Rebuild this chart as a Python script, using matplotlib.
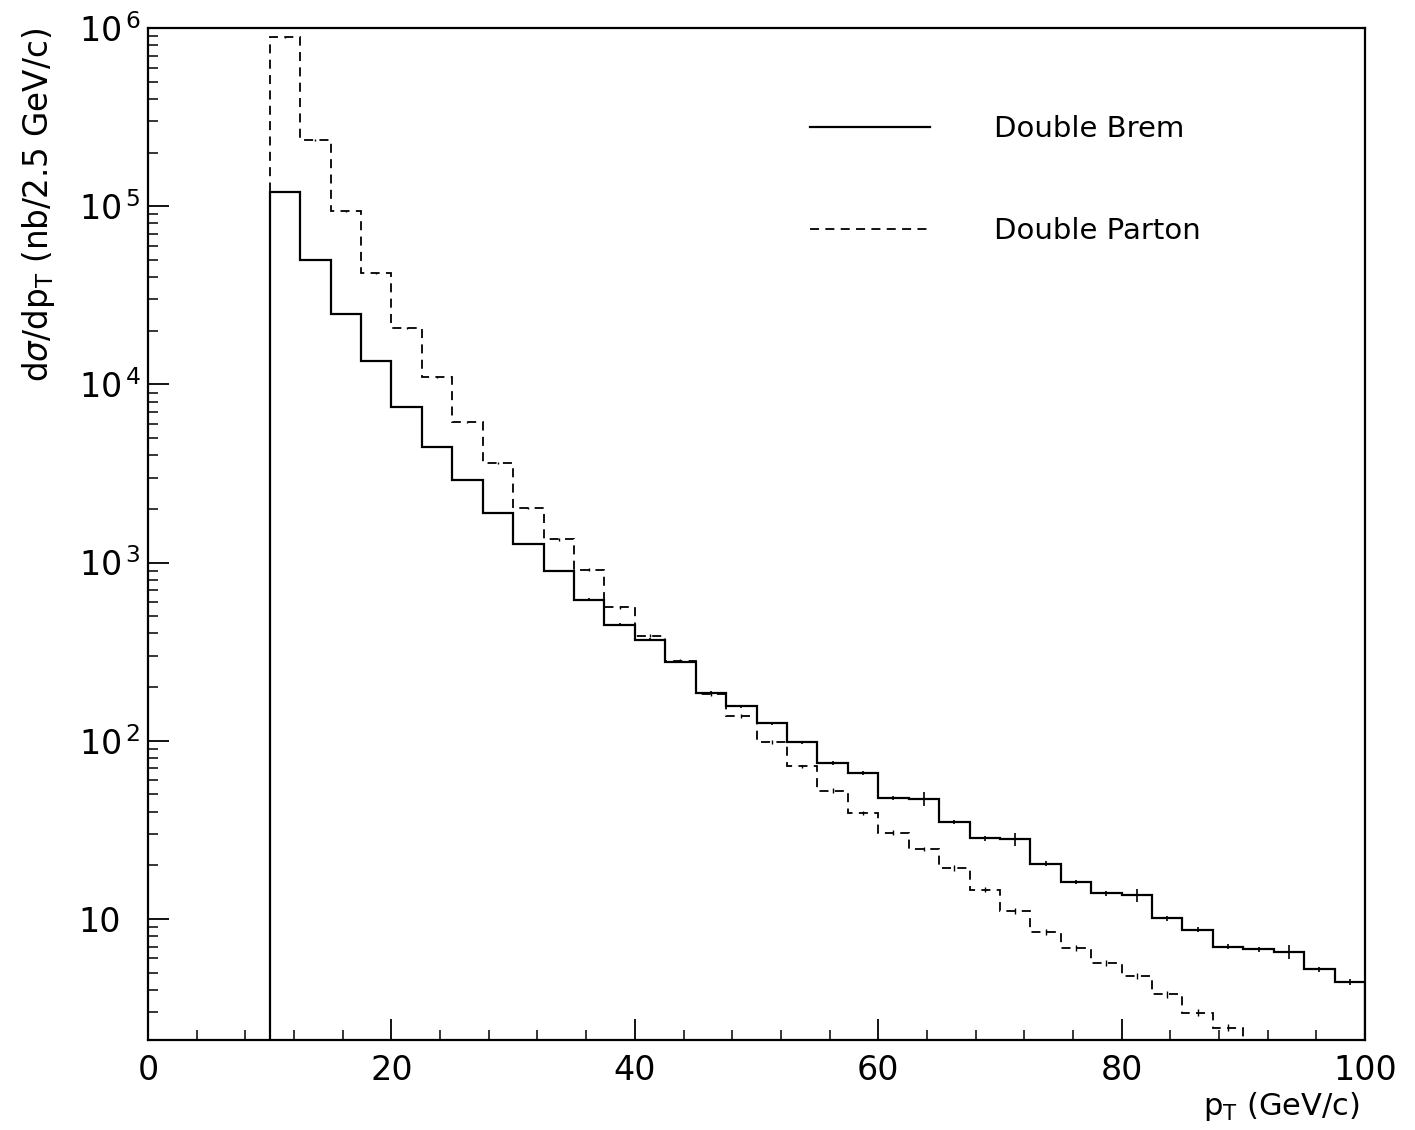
import matplotlib
matplotlib.use("Agg")
import matplotlib.pyplot as plt
import numpy as np
from matplotlib.lines import Line2D
from matplotlib.ticker import MultipleLocator, LogLocator, NullFormatter

# bin edges (GeV/c), 2.5 GeV/c wide starting at 10
edges = np.arange(10.0, 100.01, 2.5)

# Double Brem (solid), 10 -> 100 GeV/c
brem = [1.20e5, 5.0e4, 2.47e4, 1.35e4, 7.5e3, 4.44e3, 2.89e3, 1.90e3, 1.27e3, 894,
        620, 449, 369, 278, 186, 156, 125, 98, 75, 65.8,
        47.7, 47, 34.9, 28.4, 28, 20.4, 16.1, 13.9, 13.6, 10.1,
        8.7, 7.0, 6.76, 6.55, 5.22, 4.45]
brem_rel = [0.01, 0.01, 0.01, 0.015, 0.01, 0.01, 0.01, 0.01, 0.01, 0.01,
            0.015, 0.015, 0.02, 0.02, 0.02, 0.02, 0.02, 0.02, 0.025, 0.025,
            0.025, 0.09, 0.025, 0.03, 0.08, 0.03, 0.03, 0.03, 0.08, 0.03,
            0.03, 0.035, 0.035, 0.09, 0.035, 0.04]

# Double Parton (dashed), 10 -> 90 GeV/c (rest is below the plot)
parton = [8.87e5, 2.36e5, 9.34e4, 4.2e4, 2.07e4, 1.10e4, 6.12e3, 3.63e3, 2.03e3, 1.35e3,
          914, 561, 389, 282, 182, 137, 98.4, 71.7, 52.4, 39.3,
          30.5, 24.7, 19.3, 14.6, 11.1, 8.49, 6.84, 5.64, 4.81, 3.78,
          2.98, 2.45]
parton_rel = [0.01, 0.01, 0.01, 0.01, 0.01, 0.01, 0.01, 0.015, 0.015, 0.015,
              0.02, 0.02, 0.02, 0.02, 0.02, 0.025, 0.025, 0.025, 0.03, 0.03,
              0.03, 0.03, 0.035, 0.035, 0.035, 0.04, 0.04, 0.04, 0.04, 0.045,
              0.045, 0.045]

ytick_vals = [10, 1e2, 1e3, 1e4, 1e5, 1e6]
ytick_labels = ["10", r"$10^{\,2}$", r"$10^{\,3}$", r"$10^{\,4}$", r"$10^{\,5}$", r"$10^{\,6}$"]

plt.rcParams["font.family"] = ["DejaVu Sans"]

fig = plt.figure(figsize=(14.15, 11.3), dpi=100)
ax = fig.add_axes([0.1046, 0.0796, 0.8601, 0.8956])

brem = np.array(brem)
parton = np.array(parton)
centers = edges[:-1] + 1.25

ax.stairs(brem, edges, baseline=1.0, color="black", lw=1.6)
ax.stairs(parton, edges[:len(parton) + 1], baseline=1.0, color="black", lw=1.3,
          linestyle=(0, (5, 3.5)))
ax.errorbar(centers, brem, yerr=brem * np.array(brem_rel), fmt="none", ecolor="black", elinewidth=1.2)
ax.errorbar(centers[:len(parton)], parton, yerr=parton * np.array(parton_rel), fmt="none",
            ecolor="black", elinewidth=1.0)

ax.set_yscale("log")
ax.set_xlim(0, 100)
ax.set_ylim(2.09, 1e6)

ax.set_xticks([0, 20, 40, 60, 80, 100])
ax.xaxis.set_minor_locator(MultipleLocator(4))
ax.set_yticks(ytick_vals)
ax.set_yticklabels(ytick_labels)
ax.yaxis.set_minor_locator(LogLocator(base=10, subs=range(2, 10), numticks=20))
ax.yaxis.set_minor_formatter(NullFormatter())

ax.tick_params(axis="both", which="both", direction="in", top=False, right=False)
ax.tick_params(axis="both", which="major", length=15, width=1.3)
ax.tick_params(axis="both", which="minor", length=7, width=1.1)
ax.tick_params(axis="x", which="major", labelsize=24, pad=10)
ax.tick_params(axis="y", which="major", labelsize=24, pad=50)
for lab in ax.get_yticklabels():
    lab.set_horizontalalignment("left")

for sp in ax.spines.values():
    sp.set_linewidth(1.6)

ax.set_ylabel(r"d$\sigma$/dp$_{\rm T}$ (nb/2.5 GeV/c)", fontsize=23.5, loc="top")
ax.yaxis.set_label_coords(-0.075, 1.0)
ax.set_xlabel(r"p$_{\rm T}$ (GeV/c)", fontsize=22, loc="right")
ax.xaxis.set_label_coords(0.996, -0.049)

handles = [Line2D([], [], color="black", lw=1.6),
           Line2D([], [], color="black", lw=1.3, linestyle=(0, (5, 3.5)))]
ax.legend(handles, ["Double Brem", "Double Parton"], loc="upper left",
          bbox_to_anchor=(0.544, 0.914), frameon=False, fontsize=21,
          handlelength=4.1, handletextpad=2.2, labelspacing=2.55,
          borderpad=0, borderaxespad=0)

fig.savefig("out.png", dpi=100)
